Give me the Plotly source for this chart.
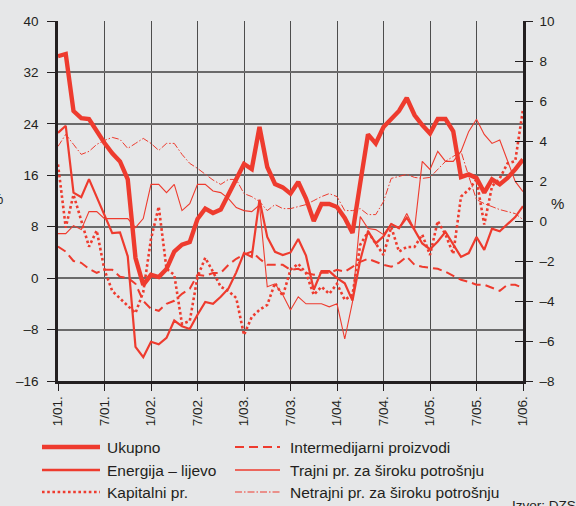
import plotly.graph_objects as go

# ---------------- data ----------------
months = [f"{m}/{y:02d}" for y in range(1, 6) for m in range(1, 13)] + ["1/06"]
tick_labels = ["1/01.", "7/01.", "1/02.", "7/02.", "1/03.", "7/03.", "1/04.", "7/04.", "1/05.", "7/05.", "1/06."]

# right axis (%)
ukupno = [8.24, 8.35, 5.5, 5.14, 5.1, 4.45, 3.9, 3.38, 2.98, 2.08,
          -1.85, -3.19, -2.69, -2.8, -2.4, -1.53, -1.18, -1.05, 0.1, 0.62,
          0.4, 0.57, 1.32, 2.13, 2.85, 2.6, 4.7, 2.7, 1.85, 1.68,
          1.37, 1.95, 1.12, 0.0, 0.85, 0.85, 0.7, 0.15, -0.6, 1.9,
          4.33, 3.88, 4.7, 5.1, 5.5, 6.15, 5.3, 4.8, 4.38, 5.1,
          5.1, 4.48, 2.2, 2.33, 2.15, 1.42, 2.08, 1.83, 2.15, 2.58, 3.08]

# left axis (%)
energija = [22.6, 23.7, 13.3, 12.6, 15.4, 12.5, 9.8, 7.0, 7.1, 3.4,
            -10.7, -12.3, -9.9, -10.3, -9.3, -6.6, -7.5, -7.9, -5.7, -3.7,
            -4.0, -2.9, -1.6, 0.9, 3.9, 3.3, 12.2, 6.4, 4.1, 3.6,
            4.0, 6.1, 3.5, -1.8, 1.1, 1.1, 0.0, -0.8, -3.5, 2.8,
            7.3, 5.4, 6.5, 8.4, 7.8, 9.4, 7.5, 5.4, 4.5, 5.7,
            7.2, 5.3, 3.3, 3.9, 6.4, 4.4, 7.7, 7.3, 8.4, 9.5, 11.2]

intermedijarni = [-1.28, -1.53, -2.0, -2.09, -2.39, -2.59, -2.44, -2.44, -2.79, -2.84,
                  -3.14, -4.0, -4.39, -4.49, -4.14, -3.99, -3.64, -3.39, -2.69, -2.74,
                  -2.6, -2.59, -2.19, -1.89, -1.68, -1.53, -1.89, -2.19, -2.19, -2.19,
                  -2.44, -2.39, -2.59, -2.69, -2.59, -2.59, -2.44, -2.54, -2.29, -2.04,
                  -1.89, -2.04, -2.19, -2.29, -2.09, -1.78, -2.19, -2.29, -2.34, -2.39,
                  -2.54, -2.74, -2.94, -3.04, -3.19, -3.19, -3.34, -3.49, -3.19, -3.19, -3.34]

kapitalni = [2.83, -0.33, 1.32, -0.03, -1.28, -0.48, -2.45, -3.5, -3.89, -4.24,
             -4.6, -3.55, -0.9, 0.72, -2.39, -2.69, -5.15, -5.0, -2.8, -1.84,
             -2.54, -3.29, -3.5, -3.85, -5.7, -4.8, -4.44, -4.2, -3.1, -3.75,
             -2.44, -2.14, -2.6, -3.69, -3.29, -3.64, -3.14, -3.94, -3.69, -1.18,
             -0.55, -1.13, -1.7, -0.3, -1.53, -1.3, -1.3, -0.68, -1.7, 0.0,
             -0.68, -1.65, 1.22, 1.57, 2.08, -0.18, 1.73, 2.13, 2.88, 3.0, 5.59]

trajni = [-0.63, -0.63, -0.23, -0.43, 0.47, 0.47, 0.12, 0.12, 0.12, 0.12,
          -0.33, 0.12, 1.83, 1.83, 1.42, 1.83, 0.52, 0.87, 1.83, 1.83,
          1.5, 1.42, 1.12, 0.67, 0.52, 0.47, 0.8, -3.29, -3.14, -3.69,
          -4.45, -3.79, -4.14, -4.14, -4.14, -4.29, -4.14, -5.9, -4.04, 0.22,
          -0.38, -0.43, -0.68, -0.13, -0.38, 0.37, -0.43, 2.98, 2.58, 3.48,
          2.98, 2.98, 3.48, 4.48, 5.09, 4.33, 3.88, 4.05, 2.98, 1.98, 1.47]

netrajni = [3.73, 4.33, 3.83, 3.33, 3.48, 3.83, 4.03, 4.18, 4.08, 3.63,
            3.88, 4.13, 3.88, 3.53, 3.88, 3.88, 3.33, 2.88, 2.63, 2.33,
            2.05, 1.83, 2.08, 2.08, 1.37, 1.22, 0.97, 0.52, 0.82, 0.62,
            0.62, 0.72, 0.82, 1.02, 1.22, 1.37, 1.22, 0.52, 0.52, 0.62,
            0.32, 0.32, 0.97, 2.13, 2.23, 2.33, 2.18, 2.13, 2.18, 2.58,
            2.98, 3.23, 3.48, 2.23, 1.07, 0.87, 0.72, 0.57, 0.47, 0.37, 0.07]

left_ticks = [-16, -8, 0, 8, 16, 24, 32, 40]
right_ticks = [-8, -6, -4, -2, 0, 2, 4, 6, 8, 10]

series_names = ["Ukupno", "Energija – lijevo", "Kapitalni pr.",
                "Intermedijarni proizvodi", "Trajni pr. za široku potrošnju",
                "Netrajni pr. za široku potrošnju"]

# ---------------- styles ----------------
RED = "#EE3B2E"
BG = "#E6E7E8"
INK = "#231F20"
FONT = "Liberation Sans, Arial, sans-serif"

styles = {
    "Ukupno": dict(width=4.4, dash="solid"),
    "Energija – lijevo": dict(width=2.2, dash="solid"),
    "Kapitalni pr.": dict(width=2.6, dash="2.6px,2.6px"),
    "Intermedijarni proizvodi": dict(width=2.0, dash="9px,5px"),
    "Trajni pr. za široku potrošnju": dict(width=1.1, dash="solid"),
    "Netrajni pr. za široku potrošnju": dict(width=1.0, dash="7px,2px,1.5px,2px"),
}

idx = list(range(len(months)))
data = {
    "Ukupno": (ukupno, "y2"),
    "Energija – lijevo": (energija, "y"),
    "Kapitalni pr.": (kapitalni, "y2"),
    "Intermedijarni proizvodi": (intermedijarni, "y2"),
    "Trajni pr. za široku potrošnju": (trajni, "y2"),
    "Netrajni pr. za široku potrošnju": (netrajni, "y2"),
}

fig = go.Figure()
draw_order = ["Netrajni pr. za široku potrošnju", "Trajni pr. za široku potrošnju",
              "Intermedijarni proizvodi", "Kapitalni pr.", "Energija – lijevo", "Ukupno"]
for name in draw_order:
    vals, ax = data[name]
    fig.add_trace(go.Scatter(
        x=idx, y=vals, yaxis=ax, mode="lines", name=name, showlegend=False,
        customdata=months, hovertemplate="%{customdata}: %{y}<extra>" + name + "</extra>",
        line=dict(color=RED, width=styles[name]["width"], dash=styles[name]["dash"]),
    ))
# helper trace for the inner right-hand tick marks
fig.add_trace(go.Scatter(x=[None], y=[None], yaxis="y3", showlegend=False, hoverinfo="skip"))

# ---------------- layout ----------------
L, R, T, B = 58, 53, 21, 125
W, H = 576, 506
pw, ph = W - L - R, H - T - B


def px_x(p):
    return (p - L) / pw


def px_y(p):
    return (H - B - p) / ph


fig.update_layout(
    width=W, height=H, autosize=False,
    margin=dict(l=L, r=R, t=T, b=B, pad=0),
    paper_bgcolor=BG, plot_bgcolor=BG,
    font=dict(family=FONT, size=13.5, color=INK),
    showlegend=False,
    xaxis=dict(
        range=[0, 60], tickmode="array", tickvals=list(range(0, 61, 6)), ticktext=tick_labels,
        tickangle=-90, ticks="outside", ticklen=7, tickwidth=1.2, tickcolor=INK,
        showgrid=True, gridcolor="#4d4d4d", gridwidth=1.3,
        showline=True, linecolor=INK, linewidth=2.5, zeroline=False,
        tickfont=dict(size=13.5, color=INK),
    ),
    yaxis=dict(
        range=[-16, 40], tickmode="array", tickvals=left_ticks,
        ticktext=[str(v).replace("-", "–") for v in left_ticks],
        ticks="outside", ticklen=8, tickwidth=1.2, tickcolor=INK,
        showgrid=True, gridcolor="#6a6a6a", gridwidth=1.8,
        showline=True, linecolor=INK, linewidth=2.5, zeroline=False,
        ticklabelstandoff=6,
    ),
    yaxis2=dict(
        range=[-8, 10], overlaying="y", side="right", tickmode="array", tickvals=right_ticks,
        ticktext=[str(v).replace("-", "–") for v in right_ticks],
        ticks="outside", ticklen=7, tickwidth=1.2, tickcolor=INK,
        showgrid=False, showline=True, linecolor=INK, linewidth=2.5, zeroline=False,
        ticklabelstandoff=4,
    ),
    yaxis3=dict(
        range=[-8, 10], overlaying="y", side="right", tickmode="array", tickvals=right_ticks,
        ticks="inside", ticklen=8, tickwidth=1.2, tickcolor=INK, showticklabels=False,
        showgrid=False, showline=False, zeroline=False,
    ),
)

# axis unit labels
fig.add_annotation(text="%", xref="paper", yref="paper", x=px_x(566), y=px_y(203),
                   showarrow=False, font=dict(size=15, color=INK))
fig.add_annotation(text="%", xref="paper", yref="paper", x=px_x(4.5), y=px_y(198),
                   xanchor="right", showarrow=False, font=dict(size=15, color=INK))
# source
fig.add_annotation(text="Izvor: DZS", xref="paper", yref="paper", x=px_x(510), y=px_y(496),
                   xanchor="left", yanchor="top", showarrow=False, font=dict(size=13.5, color=INK))

# ---------------- legend (two columns) ----------------
rows_y = [447, 470, 492]
cols = [(42, 100, 105), (235, 280, 288)]
legend_widths = {"Ukupno": 4.4, "Energija – lijevo": 2.5, "Kapitalni pr.": 2.4,
                 "Intermedijarni proizvodi": 2.0, "Trajni pr. za široku potrošnju": 1.6,
                 "Netrajni pr. za široku potrošnju": 1.1}
for k, name in enumerate(series_names):
    c, r = divmod(k, 3)
    x0, x1, xt = cols[c]
    yy = px_y(rows_y[r])
    fig.add_shape(type="line", xref="paper", yref="paper",
                  x0=px_x(x0), x1=px_x(x1), y0=yy, y1=yy,
                  line=dict(color=RED, width=legend_widths[name], dash=styles[name]["dash"]))
    fig.add_annotation(text=name, xref="paper", yref="paper", x=px_x(xt), y=yy,
                       xanchor="left", yanchor="middle", showarrow=False,
                       font=dict(size=15.5, color=INK))

fig.write_html(
    "out.html",
    config={"displayModeBar": False},
    post_script="document.body.style.margin='0px';document.body.style.padding='0px';"
                "document.body.style.overflow='hidden';document.body.style.background='" + BG + "';",
)
